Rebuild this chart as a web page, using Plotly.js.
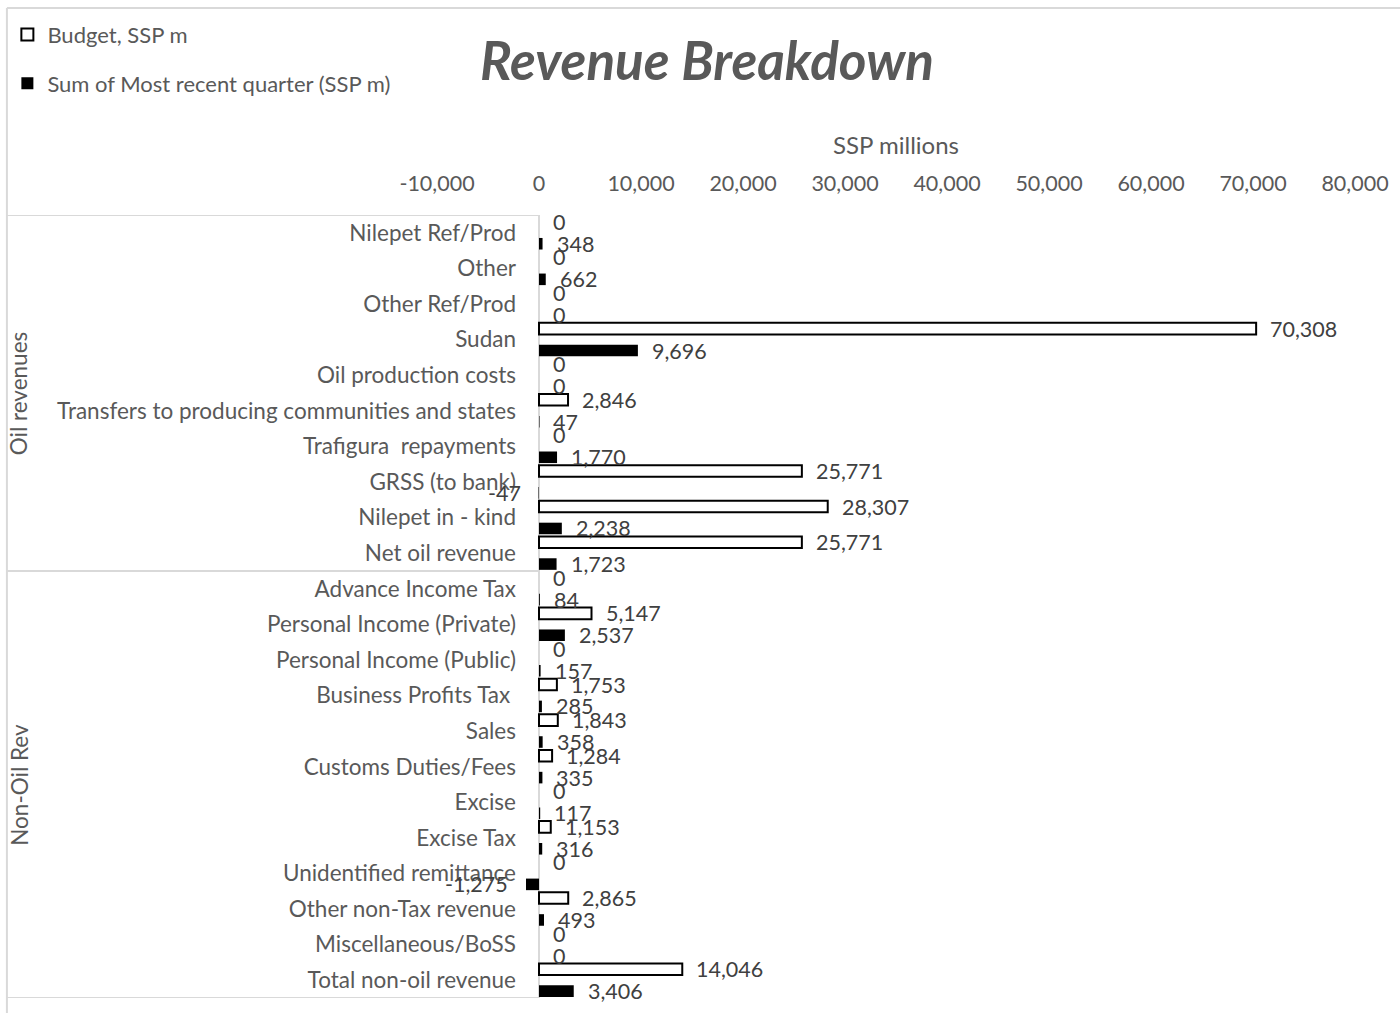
<!DOCTYPE html>
<html>
<head>
<meta charset="utf-8">
<script src="https://cdn.plot.ly/plotly-3.0.1.min.js"></script>
<style>html,body{margin:0;padding:0;background:#fff;}#chart{width:1400px;height:1013px;}</style>
</head>
<body>
<div id="chart"></div>
<script>
const categories = [
  "Nilepet Ref/Prod", "Other", "Other Ref/Prod", "Sudan", "Oil production costs",
  "Transfers to producing communities and states", "Trafigura  repayments", "GRSS (to bank)",
  "Nilepet in - kind", "Net oil revenue",
  "Advance Income Tax", "Personal Income (Private)", "Personal Income (Public)",
  "Business Profits Tax ", "Sales", "Customs Duties/Fees", "Excise", "Excise Tax",
  "Unidentified remittance", "Other non-Tax revenue", "Miscellaneous/BoSS", "Total non-oil revenue"
];
const budget = [0, 0, 0, 70308, 0, 2846, 0, 25771, 28307, 25771,
  0, 5147, 0, 1753, 1843, 1284, 0, 1153, 0, 2865, 0, 14046];
const recentQuarter = [348, 662, 0, 9696, 0, 47, 1770, -47, 2238, 1723,
  84, 2537, 157, 285, 358, 335, 117, 316, -1275, 493, 0, 3406];
const groups = [
  {name: "Oil revenues", first: 0, last: 9},
  {name: "Non-Oil Rev", first: 10, last: 21}
];
const seriesNames = ["Budget, SSP m", "Sum of Most recent quarter (SSP m)"];
const xTicks = [-10000, 0, 10000, 20000, 30000, 40000, 50000, 60000, 70000, 80000];

const FONT = "Lato, 'Open Sans', sans-serif";
const GREY = "#595959";
const LABEL = "#404040";
const LINE = "#d9d9d9";

const barW = 0.325;
const offTop = -0.47, offBot = 0.145;

// zero-length outlined bars would show as a stray stroke, so they are left empty
const barValues = vals => vals.map(v => (v === 0 ? null : v));

const traces = [
  {type: "bar", orientation: "h", name: seriesNames[0], y: categories, x: barValues(budget),
   width: barW, offset: offTop, legendgroup: "a",
   marker: {color: "#ffffff", line: {color: "#000000", width: 2}}, hoverinfo: "skip"},
  {type: "bar", orientation: "h", name: seriesNames[1], y: categories, x: barValues(recentQuarter),
   width: barW, offset: offBot, legendgroup: "b",
   marker: {color: "#000000", line: {color: "#000000", width: 0}}, hoverinfo: "skip"}
];

const fmt = v => v.toLocaleString("en-US");
const annotations = [];
function addLabels(vals, centerOff) {
  vals.forEach((v, i) => {
    annotations.push({
      xref: "x", yref: "y", x: v, y: i + centerOff,
      text: fmt(v), showarrow: false,
      xanchor: v < 0 ? "right" : "left", yanchor: "middle",
      xshift: v < 0 ? -16 : 12,
      font: {family: FONT, size: 21.5, color: LABEL}
    });
  });
}
addLabels(budget, offTop + barW / 2);
addLabels(recentQuarter, offBot + barW / 2);

groups.forEach(g => {
  annotations.push({
    xref: "paper", yref: "y", x: -0.455, y: (g.first + g.last) / 2,
    text: g.name, textangle: -90, showarrow: false,
    xanchor: "center", yanchor: "middle",
    font: {family: FONT, size: 22.5, color: GREY}
  });
});

const xL = -0.4685; // left frame edge in paper units
const zeroPaper = (0 - xTicks[0]) / (xTicks[xTicks.length - 1] - xTicks[0]);
const shapes = [
  {type: "line", xref: "paper", yref: "paper", x0: xL, x1: 1.1, y0: 1.2644, y1: 1.2644, line: {color: LINE, width: 2}},
  {type: "line", xref: "paper", yref: "paper", x0: xL, x1: xL, y0: 1.2644, y1: -0.05, line: {color: LINE, width: 2}}
];
[-0.5, groups[0].last + 0.5, groups[1].last + 0.5].forEach(b => {
  shapes.push({type: "line", xref: "paper", yref: "y", x0: xL, x1: zeroPaper, y0: b, y1: b, line: {color: LINE, width: 2}});
});

const layout = {
  width: 1400, height: 1013,
  margin: {l: 437, r: 45, t: 215, b: 15, autoexpand: false},
  paper_bgcolor: "#ffffff", plot_bgcolor: "#ffffff",
  barmode: "group",
  title: {text: "Revenue Breakdown", xref: "container", yref: "container", x: 0.505, y: 0.939,
          xanchor: "center", yanchor: "middle",
          font: {family: FONT, size: 53, color: GREY, weight: "bold", style: "italic"}},
  xaxis: {side: "top", range: [xTicks[0], xTicks[xTicks.length - 1]], tickvals: xTicks,
          ticktext: xTicks.map(fmt), showgrid: false, zeroline: true, zerolinecolor: LINE, zerolinewidth: 2,
          showline: false, ticks: "", ticklabelstandoff: 19, automargin: false,
          tickfont: {family: FONT, size: 21.5, color: GREY},
          title: {text: "SSP millions", standoff: 8, font: {family: FONT, size: 24, color: GREY}}},
  yaxis: {type: "category", range: [categories.length - 0.5, -0.5], anchor: "free", position: zeroPaper,
          showgrid: false, zeroline: false, showline: false, ticks: "", ticklabelstandoff: 23, automargin: false,
          tickfont: {family: FONT, size: 22.5, color: GREY}},
  showlegend: true,
  legend: {x: -0.468, y: 1.257, xanchor: "left", yanchor: "top", orientation: "v",
           traceorder: "grouped", tracegroupgap: 17,
           font: {family: FONT, size: 22, color: GREY}, bgcolor: "rgba(0,0,0,0)"},
  annotations: annotations,
  shapes: shapes
};

Plotly.newPlot("chart", traces, layout, {displayModeBar: false, staticPlot: true});
</script>
</body>
</html>
